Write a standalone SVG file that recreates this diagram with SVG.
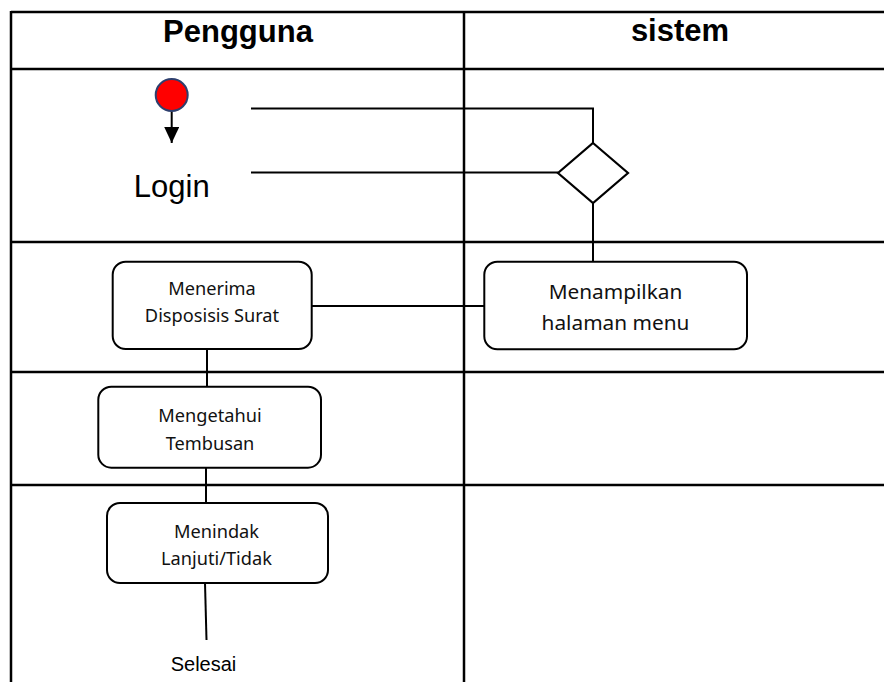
<svg xmlns="http://www.w3.org/2000/svg" width="884" height="682" viewBox="0 0 884 682">
  <style>
    .grid { stroke: #000; stroke-width: 2.5; fill: none; }
    .box { fill: #fff; stroke: #000; stroke-width: 2; }
    .conn { stroke: #000; stroke-width: 2; fill: none; }
    .head { font-family: "Liberation Sans", Arial, sans-serif; font-weight: bold; font-size: 31px; fill: #000; text-anchor: middle; }
    .lbl { font-family: "Noto Sans", "Open Sans", sans-serif; font-size: 18.2px; fill: #111; text-anchor: middle; }
    .lbl2 { font-family: "Noto Sans", "Open Sans", sans-serif; font-size: 20.8px; fill: #111; text-anchor: middle; }
    .plain { font-family: "Liberation Sans", Arial, sans-serif; fill: #000; text-anchor: middle; }
  </style>
  <defs>
    <marker id="arrow" viewBox="0 0 16 15" refX="16" refY="7.5" markerWidth="16" markerHeight="15" markerUnits="userSpaceOnUse" orient="auto">
      <path d="M0,0 L16,7.5 L0,15 Z" fill="#000"/>
    </marker>
  </defs>

  <rect width="884" height="682" fill="#fff"/>

  <!-- swimlane table -->
  <g id="lanes">
    <line class="grid" x1="11" y1="12" x2="884" y2="12"/>
    <line class="grid" x1="11" y1="69" x2="884" y2="69"/>
    <line class="grid" x1="11" y1="242" x2="884" y2="242"/>
    <line class="grid" x1="11" y1="372" x2="884" y2="372"/>
    <line class="grid" x1="11" y1="485" x2="884" y2="485"/>
    <line class="grid" x1="11" y1="11" x2="11" y2="682"/>
    <line class="grid" x1="464" y1="11" x2="464" y2="682"/>
    <text class="head" x="238" y="42">Pengguna</text>
    <text class="head" x="680" y="41">sistem</text>
  </g>

  <!-- connectors -->
  <g id="connectors">
    <line class="conn" x1="171.7" y1="111" x2="171.7" y2="143" marker-end="url(#arrow)"/>
    <polyline class="conn" points="251,108.5 593,108.5 593,143"/>
    <line class="conn" x1="251" y1="172.5" x2="558" y2="172.5"/>
    <line class="conn" x1="593" y1="203" x2="593" y2="262"/>
    <line class="conn" x1="312" y1="306" x2="484" y2="306"/>
    <line class="conn" x1="207" y1="349" x2="207" y2="387"/>
    <line class="conn" x1="206" y1="468" x2="206" y2="503"/>
    <line class="conn" x1="205" y1="583" x2="206.5" y2="640"/>
  </g>

  <g id="start">
    <circle cx="171.7" cy="95" r="16" fill="#f00" stroke="#2e3f6e" stroke-width="2"/>
  </g>

  <g id="login">
    <text class="plain" x="171.7" y="197" font-size="31">Login</text>
  </g>

  <g id="decision">
    <polygon points="593,143 628,173 593,203 558,173" fill="#fff" stroke="#000" stroke-width="2.2"/>
  </g>

  <g id="menerima">
    <rect class="box" x="112.7" y="261.7" width="199" height="87.3" rx="13"/>
    <text class="lbl" x="212" y="295">Menerima</text>
    <text class="lbl" x="212" y="322">Disposisis Surat</text>
  </g>

  <g id="menampilkan">
    <rect class="box" x="484.3" y="261.7" width="262.7" height="87.6" rx="13"/>
    <text class="lbl2" x="615.5" y="299">Menampilkan</text>
    <text class="lbl2" x="615.5" y="330">halaman menu</text>
  </g>

  <g id="mengetahui">
    <rect class="box" x="98.3" y="386.7" width="222.7" height="81" rx="13"/>
    <text class="lbl" x="210" y="421.7">Mengetahui</text>
    <text class="lbl" x="210" y="450">Tembusan</text>
  </g>

  <g id="menindak">
    <rect class="box" x="107" y="503" width="221" height="80" rx="13"/>
    <text class="lbl" x="216.5" y="538">Menindak</text>
    <text class="lbl" x="216.5" y="565">Lanjuti/Tidak</text>
  </g>

  <g id="selesai">
    <text class="plain" x="203.5" y="670.7" font-size="20">Selesai</text>
  </g>
</svg>
